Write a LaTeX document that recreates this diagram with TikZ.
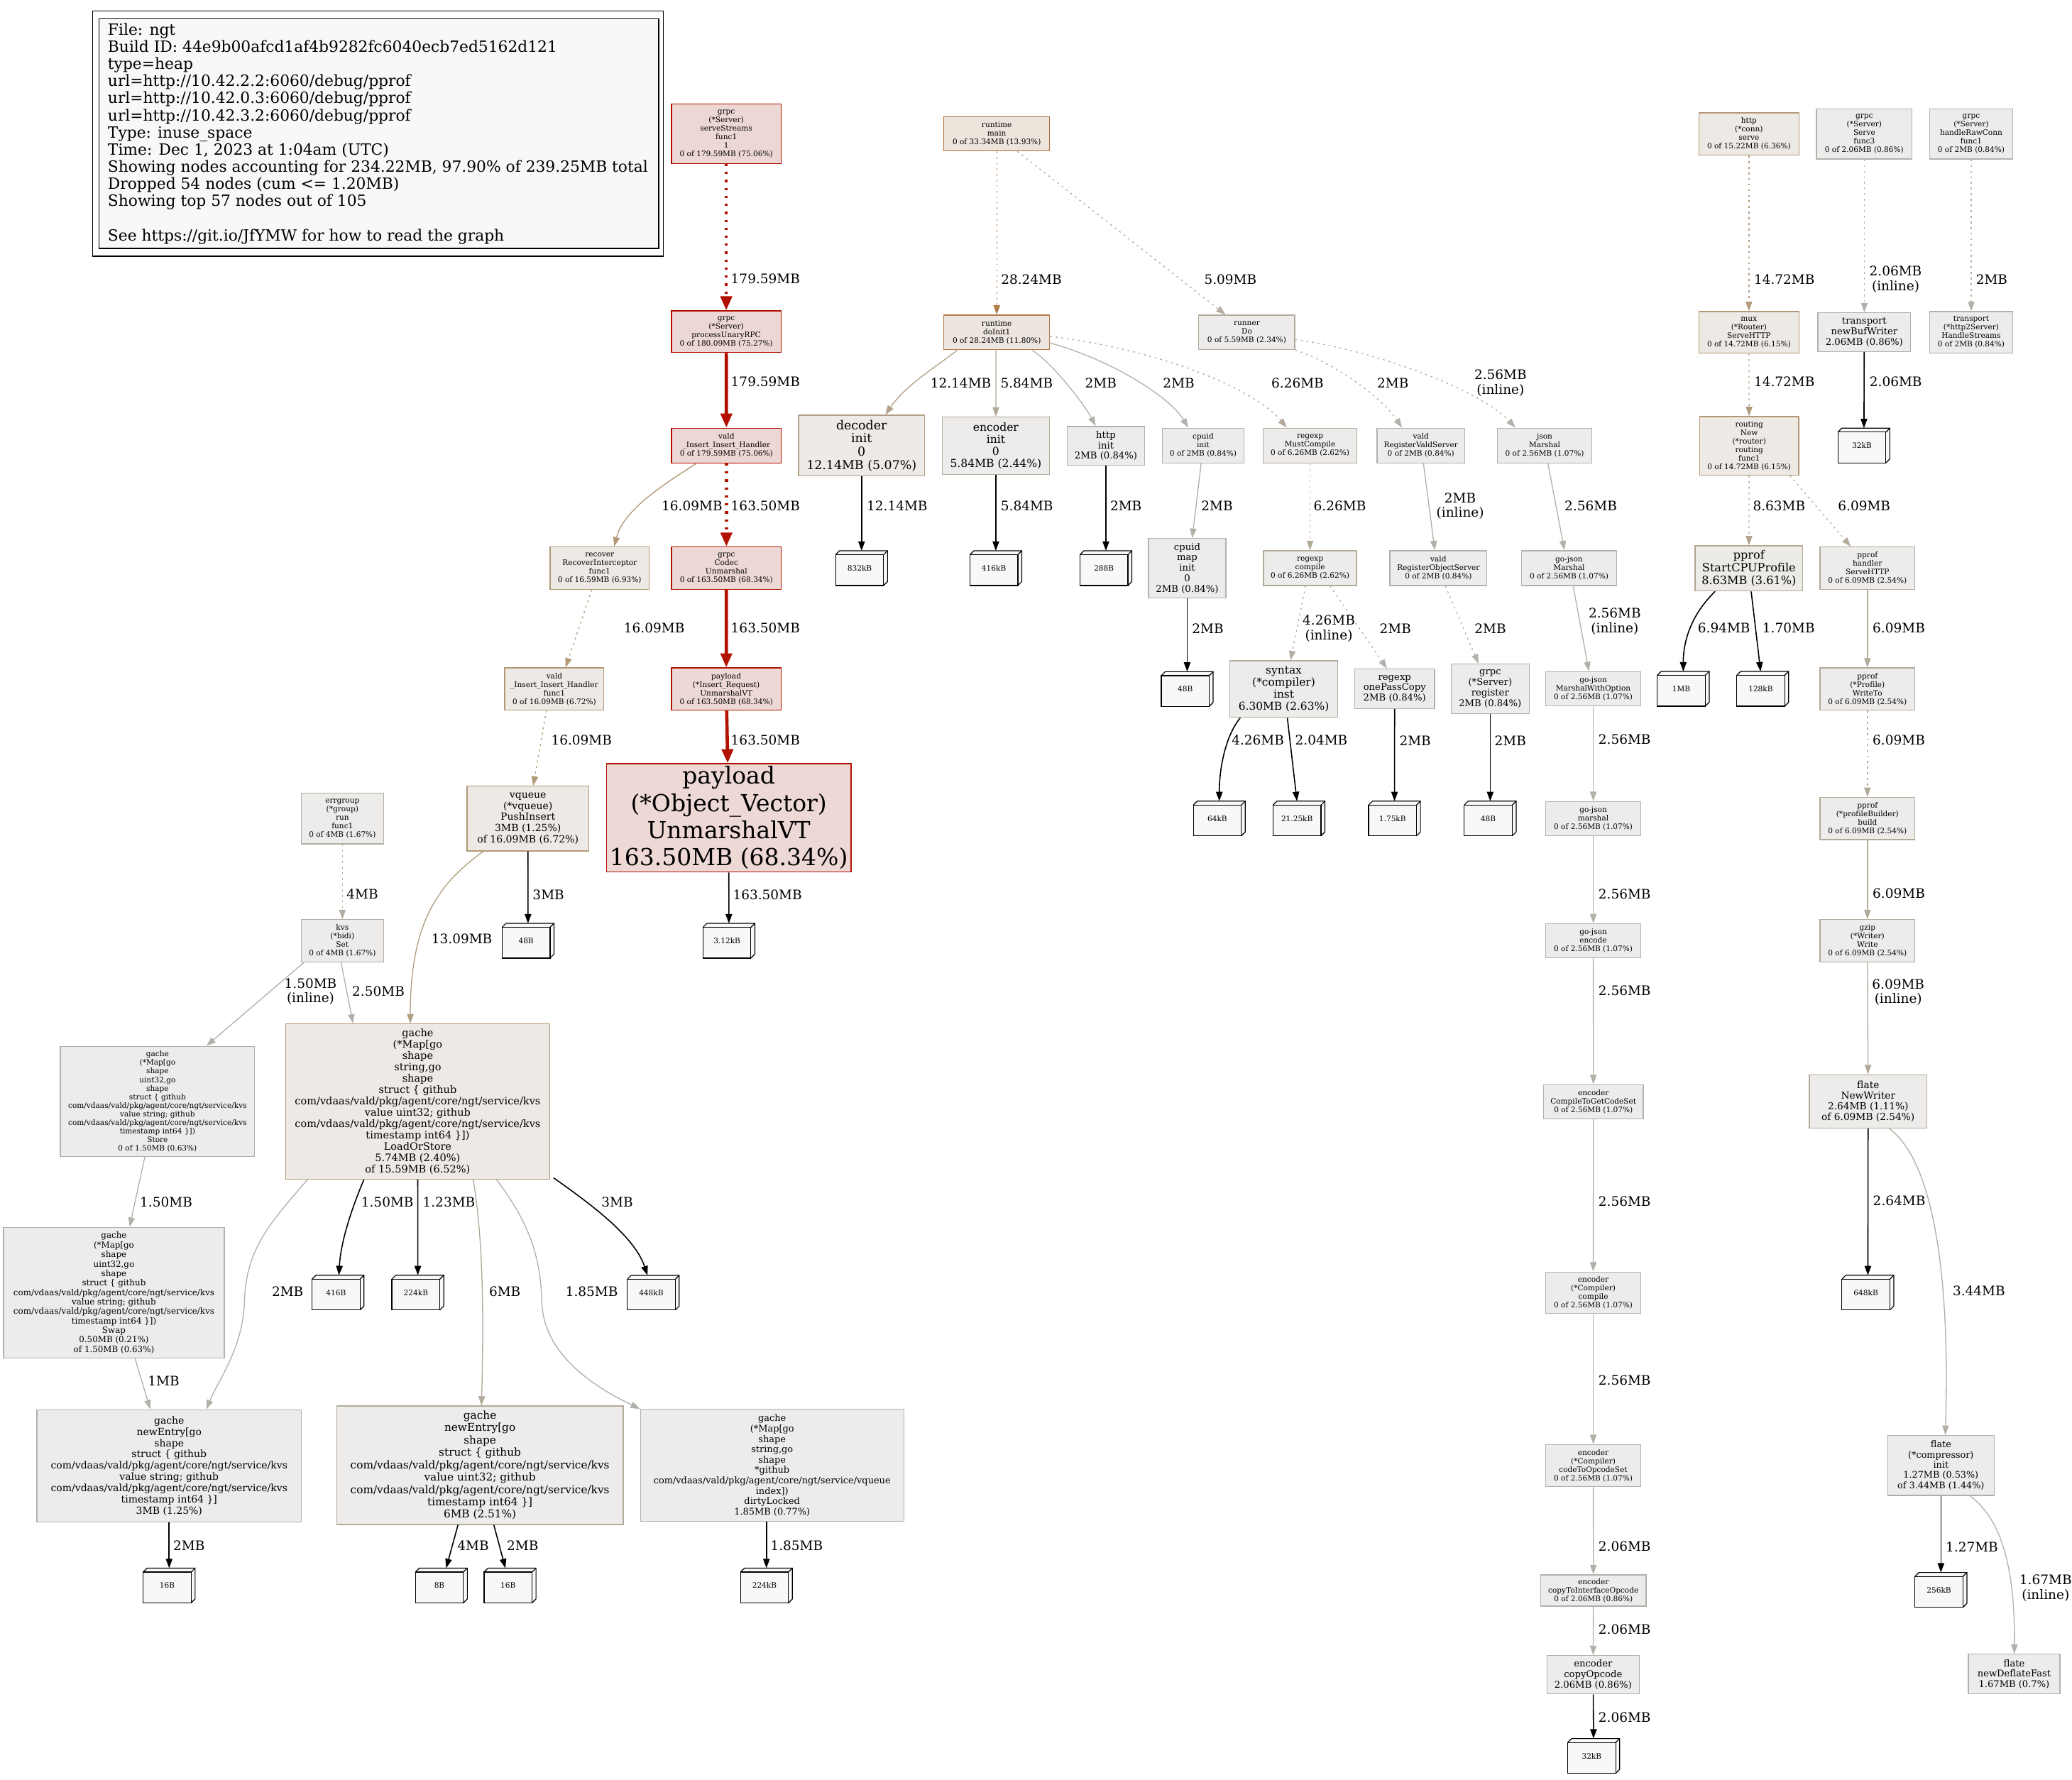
\documentclass[tikz,border=0pt]{standalone}
\usepackage{fontspec}
\setmainfont{DejaVu Serif}[Ligatures=NoCommon]
\usetikzlibrary{arrows.meta,calc}
\newcommand\unitpx{1.41pt}
\newcommand\leafd{4.2pt}
\definecolor{ered1}{HTML}{B20E00}
\definecolor{ered2}{HTML}{B21300}
\definecolor{eb28}{HTML}{B27B49}
\definecolor{eb16}{HTML}{B29876}
\definecolor{eb14}{HTML}{B29A7B}
\definecolor{eb13}{HTML}{B29E81}
\definecolor{eb12}{HTML}{B29F85}
\definecolor{eb8}{HTML}{B2A692}
\definecolor{eb6}{HTML}{B2AA9B}
\definecolor{eb5}{HTML}{B2AC9F}
\definecolor{eb4}{HTML}{B2ADA2}
\definecolor{eb3}{HTML}{B2AEA5}
\definecolor{eb2}{HTML}{B2B0A9}
\definecolor{eb1}{HTML}{B2B1AC}
\definecolor{dmain}{HTML}{B26D36}
\definecolor{drun}{HTML}{B2AB9D}
\definecolor{fred1}{HTML}{EDD7D5}
\definecolor{fred2}{HTML}{EDD8D5}
\definecolor{fmain}{HTML}{EDE4DC}
\definecolor{finit}{HTML}{EDE5DF}
\definecolor{fb15}{HTML}{EDE9E5}
\definecolor{fb12}{HTML}{EDEAE7}
\definecolor{fb8}{HTML}{EDEBE8}
\definecolor{fb6}{HTML}{EDECEA}
\definecolor{fb4}{HTML}{EDECEB}
\definecolor{fgr}{HTML}{EDECEC}
\definecolor{leaffill}{HTML}{F8F8F8}
\tikzset{
  txt/.style 2 args={font=\fontsize{#1}{#2}\selectfont},
  s8/.style={txt={8}{9.1}},
  gbox/.style={rectangle, draw, line width=1pt, inner sep=0pt, align=center},
  nred1/.style={fill=fred1, draw=ered1},
  nred2/.style={fill=fred2, draw=ered2},
  nmain/.style={fill=fmain, draw=dmain},
  ninit/.style={fill=finit, draw=eb28},
  nb15/.style={fill=fb15, draw=eb16},
  nb12/.style={fill=fb12, draw=eb12},
  nb8/.style={fill=fb8, draw=eb8},
  nb6/.style={fill=fb6, draw=eb6},
  nb4/.style={fill=fb4, draw=eb4},
  nrun/.style={fill=fb6, draw=drun},
  nfc/.style={fill=fgr, draw=eb3},
  ng/.style={fill=fgr, draw=eb2},
  leafn/.style={rectangle, fill=leaffill, draw=none, minimum width=39*\unitpx, minimum height=26*\unitpx, inner sep=0pt, s8},
  leafl/.style={draw=black, line width=0.9pt},
  E/.style={line width=1pt, -{Triangle[length=10pt,width=7pt]}},
  EB/.style={line width=1.2pt, draw=black, -{Triangle[length=10pt,width=7pt]}},
  eR1/.style={draw=ered1, line width=3.5pt, -{Triangle[length=15pt,width=12pt]}},
  eR2/.style={draw=ered2, line width=3.5pt, -{Triangle[length=15pt,width=12pt]}},
  dt/.style={dash pattern=on 2pt off 4pt},
  dtR/.style={dash pattern=on 2.5pt off 6pt},
  lab/.style={font=\fontsize{14}{15.7}\selectfont, inner sep=0pt, anchor=west},
  labc/.style={font=\fontsize{14}{15.7}\selectfont, inner sep=0pt, align=center},
}
\newcommand\gn[7]{\node[gbox,#6,minimum width=#4*\unitpx,minimum height=#5*\unitpx] (#1) at (#2,#3) {#7};}
\newcommand\leaf[4]{%
  \node[leafn] (#1) at (#2,#3) {\hspace*{-\leafd}#4};
  \draw[leafl] ([yshift=-\leafd]#1.north west) rectangle ([xshift=-\leafd]#1.south east);
  \draw[leafl] ([yshift=-\leafd]#1.north west) -- ([xshift=\leafd]#1.north west) -- (#1.north east) -- ([yshift=\leafd]#1.south east) -- ([xshift=-\leafd]#1.south east);
  \draw[leafl] ([xshift=-\leafd,yshift=-\leafd]#1.north east) -- (#1.north east);%
}
\newcommand\kvspath{com/vdaas/vald/pkg/agent/core/ngt/service/kvs}
\begin{document}
\begin{tikzpicture}[x=1.41pt,y=-1.41pt]
\fill[white] (0,0) rectangle (1568,1347);
\useasboundingbox (0,0) rectangle (1568,1347);

% legend
\node[draw=black, line width=1pt, minimum width=432*\unitpx, minimum height=185.6*\unitpx, inner sep=0pt] (legout) at (286,101.2) {};
\node[draw=black, fill=leaffill, line width=1pt, minimum width=423.5*\unitpx, minimum height=173.7*\unitpx, inner sep=0pt] (legin) at (286.75,101.2) {};
\node[anchor=west, align=left, inner sep=0pt, txt={16.5}{18.3}] (legtext) at (81.5,101.2) {File: ngt\\Build ID: 44e9b00afcd1af4b9282fc6040ecb7ed5162d121\\type=heap\\url=http://10.42.2.2:6060/debug/pprof\\url=http://10.42.0.3:6060/debug/pprof\\url=http://10.42.3.2:6060/debug/pprof\\Type: inuse\_space\\Time: Dec 1, 2023 at 1:04am (UTC)\\Showing nodes accounting for 234.22MB, 97.90\% of 239.25MB total\\Dropped 54 nodes (cum <= 1.20MB)\\Showing top 57 nodes out of 105\\[18.3pt]See https://git.io/JfYMW for how to read the graph};

% ---------- nodes ----------
\gn{ss}{549.6}{101.2}{83}{45}{nred1,s8}{grpc\\(*Server)\\serveStreams\\func1\\1\\0 of 179.59MB (75.06\%)}
\gn{pu}{549.6}{251}{83}{31.5}{nred1,s8}{grpc\\(*Server)\\processUnaryRPC\\0 of 180.09MB (75.27\%)}
\gn{ih}{549.7}{337.2}{83}{26.4}{nred1,s8}{vald\\\_Insert\_Insert\_Handler\\0 of 179.59MB (75.06\%)}
\gn{rec}{453.8}{430}{75}{32}{nb15,s8}{recover\\RecoverInterceptor\\func1\\0 of 16.59MB (6.93\%)}
\gn{cu}{549.7}{430}{83}{32}{nred2,s8}{grpc\\Codec\\Unmarshal\\0 of 163.50MB (68.34\%)}
\gn{pir}{549.6}{521.5}{83}{32}{nred2,s8}{payload\\(*Insert\_Request)\\UnmarshalVT\\0 of 163.50MB (68.34\%)}
\gn{ihf}{419.5}{521.5}{75}{32}{nb15,s8}{vald\\\_Insert\_Insert\_Handler\\func1\\0 of 16.09MB (6.72\%)}
\gn{pov}{551.5}{619}{185}{82}{nred2,txt={25}{29}}{payload\\(*Object\_Vector)\\UnmarshalVT\\163.50MB (68.34\%)}
\gn{vq}{399.5}{619.5}{92}{49}{nb15,txt={10.6}{12}}{vqueue\\(*vqueue)\\PushInsert\\3MB (1.25\%)\\of 16.09MB (6.72\%)}
\gn{eg}{259.1}{619.5}{62.5}{38.3}{nb4,s8}{errgroup\\(*group)\\run\\func1\\0 of 4MB (1.67\%)}
\gn{kvs}{259.1}{712}{62.5}{32}{nb4,s8}{kvs\\(*bidi)\\Set\\0 of 4MB (1.67\%)}
\gn{los}{316.1}{833.7}{200}{117.4}{nb15,txt={11}{12.1}}{gache\\(*Map[go\\shape\\string,go\\shape\\struct \{ github\\\kvspath\\value uint32; github\\\kvspath\\timestamp int64 \}])\\LoadOrStore\\5.74MB (2.40\%)\\of 15.59MB (6.52\%)}
\gn{st}{119.2}{833.6}{147}{83.3}{ng,s8}{gache\\(*Map[go\\shape\\uint32,go\\shape\\struct \{ github\\\kvspath\\value string; github\\\kvspath\\timestamp int64 \}])\\Store\\0 of 1.50MB (0.63\%)}
\gn{sw}{86.2}{978.4}{167}{99}{ng,txt={9}{10.1}}{gache\\(*Map[go\\shape\\uint32,go\\shape\\struct \{ github\\\kvspath\\value string; github\\\kvspath\\timestamp int64 \}])\\Swap\\0.50MB (0.21\%)\\of 1.50MB (0.63\%)}
\gn{ne1}{128}{1109.5}{200}{85}{ng,txt={10.6}{12}}{gache\\newEntry[go\\shape\\struct \{ github\\\kvspath\\value string; github\\\kvspath\\timestamp int64 \}]\\3MB (1.25\%)}
\gn{ne2}{363.2}{1109}{216.7}{89.6}{nb6,txt={11.6}{13.2}}{gache\\newEntry[go\\shape\\struct \{ github\\\kvspath\\value uint32; github\\\kvspath\\timestamp int64 \}]\\6MB (2.51\%)}
\gn{dl}{584.3}{1109.1}{199.3}{84.8}{ng,txt={9.8}{11.1}}{gache\\(*Map[go\\shape\\string,go\\shape\\*github\\com/vdaas/vald/pkg/agent/core/ngt/service/vqueue\\index])\\dirtyLocked\\1.85MB (0.77\%)}

\gn{rm}{754.3}{101.2}{80}{26}{nmain,s8}{runtime\\main\\0 of 33.34MB (13.93\%)}
\gn{di}{754.3}{251.5}{80}{26}{ninit,s8}{runtime\\doInit1\\0 of 28.24MB (11.80\%)}
\gn{rd}{943.5}{251.5}{72.7}{26}{nrun,s8}{runner\\Do\\0 of 5.59MB (2.34\%)}
\gn{dec}{652}{337.3}{95.4}{46}{nb12,txt={13.2}{14.1}}{decoder\\init\\0\\12.14MB (5.07\%)}
\gn{enc}{753.6}{337.4}{81.3}{43.3}{nb6,txt={11.8}{13}}{encoder\\init\\0\\5.84MB (2.44\%)}
\gn{hi}{836.9}{337.4}{58.6}{29.3}{ng,txt={10}{11.2}}{http\\init\\2MB (0.84\%)}
\gn{ci}{910.5}{337.2}{62}{26.4}{ng,s8}{cpuid\\init\\0 of 2MB (0.84\%)}
\gn{mc}{991.4}{337.2}{70.7}{26.4}{nb6,s8}{regexp\\MustCompile\\0 of 6.26MB (2.62\%)}
\gn{rvs}{1075.3}{337.2}{66.4}{26.4}{ng,s8}{vald\\RegisterValdServer\\0 of 2MB (0.84\%)}
\gn{jm}{1168.9}{337.2}{71.5}{26.4}{ng,s8}{json\\Marshal\\0 of 2.56MB (1.07\%)}
\gn{cmi}{898.4}{430.1}{58.6}{45.2}{ng,txt={10}{11.2}}{cpuid\\map\\init\\0\\2MB (0.84\%)}
\gn{rc}{991.4}{430}{70.4}{26.4}{nb6,s8}{regexp\\compile\\0 of 6.26MB (2.62\%)}
\gn{ros}{1088.5}{430}{73.5}{26.4}{ng,s8}{vald\\RegisterObjectServer\\0 of 2MB (0.84\%)}
\gn{gjm}{1187.4}{430}{72}{26.4}{ng,s8}{go-json\\Marshal\\0 of 2.56MB (1.07\%)}
\gn{syn}{971.5}{521.5}{81.8}{42.9}{nb6,txt={11.7}{12.9}}{syntax\\(*compiler)\\inst\\6.30MB (2.63\%)}
\gn{opc}{1055.4}{521.3}{60.4}{29.9}{ng,txt={10}{11.2}}{regexp\\onePassCopy\\2MB (0.84\%)}
\gn{reg}{1127.7}{521.4}{59}{37.6}{ng,txt={10}{11.2}}{grpc\\(*Server)\\register\\2MB (0.84\%)}
\gn{mwo}{1205.7}{521.3}{72.2}{25.8}{ng,s8}{go-json\\MarshalWithOption\\0 of 2.56MB (1.07\%)}
\gn{gjmar}{1205.7}{619.5}{72.2}{25.8}{ng,s8}{go-json\\marshal\\0 of 2.56MB (1.07\%)}
\gn{gjenc}{1205.7}{712}{72.2}{25.8}{ng,s8}{go-json\\encode\\0 of 2.56MB (1.07\%)}
\gn{ctg}{1205.8}{833.8}{75.6}{25.8}{ng,s8}{encoder\\CompileToGetCodeSet\\0 of 2.56MB (1.07\%)}
\gn{cmp}{1205.7}{978.4}{72.2}{31.4}{ng,s8}{encoder\\(*Compiler)\\compile\\0 of 2.56MB (1.07\%)}
\gn{cto}{1205.7}{1109.2}{72.2}{31.9}{ng,s8}{encoder\\(*Compiler)\\codeToOpcodeSet\\0 of 2.56MB (1.07\%)}
\gn{ctio}{1205.8}{1203.8}{79.9}{23.7}{ng,s8}{encoder\\copyToInterfaceOpcode\\0 of 2.06MB (0.86\%)}
\gn{cop}{1205.6}{1267.5}{69.8}{29}{ng,txt={10}{11.2}}{encoder\\copyOpcode\\2.06MB (0.86\%)}
\gn{hcs}{1323.5}{101.4}{75.9}{31.9}{nb15,s8}{http\\(*conn)\\serve\\0 of 15.22MB (6.36\%)}
\gn{sf3}{1410.8}{101.4}{72.4}{38}{ng,s8}{grpc\\(*Server)\\Serve\\func3\\0 of 2.06MB (0.86\%)}
\gn{hrc}{1491.7}{101.4}{63}{38}{ng,s8}{grpc\\(*Server)\\handleRawConn\\func1\\0 of 2MB (0.84\%)}
\gn{mux}{1323.5}{251.5}{75.9}{31.4}{nb15,s8}{mux\\(*Router)\\ServeHTTP\\0 of 14.72MB (6.15\%)}
\gn{nbw}{1410.8}{251.4}{70.1}{29.3}{ng,txt={10}{11.2}}{transport\\newBufWriter\\2.06MB (0.86\%)}
\gn{hs}{1491.7}{251.5}{63}{31.4}{ng,s8}{transport\\(*http2Server)\\HandleStreams\\0 of 2MB (0.84\%)}
\gn{rnf}{1323.7}{337.4}{75}{44.3}{nb15,s8}{routing\\New\\(*router)\\routing\\func1\\0 of 14.72MB (6.15\%)}
\gn{scp}{1323.5}{430.2}{81.6}{34.2}{nb8,txt={12.2}{13.5}}{pprof\\StartCPUProfile\\8.63MB (3.61\%)}
\gn{phs}{1413.2}{430}{71.9}{31.9}{nb6,s8}{pprof\\handler\\ServeHTTP\\0 of 6.09MB (2.54\%)}
\gn{pwt}{1413.2}{521.5}{71.9}{31.9}{nb6,s8}{pprof\\(*Profile)\\WriteTo\\0 of 6.09MB (2.54\%)}
\gn{pbb}{1413.2}{619.5}{71.9}{31.9}{nb6,s8}{pprof\\(*profileBuilder)\\build\\0 of 6.09MB (2.54\%)}
\gn{gzw}{1413.2}{712}{71.9}{31.9}{nb6,s8}{gzip\\(*Writer)\\Write\\0 of 6.09MB (2.54\%)}
\gn{fnw}{1413.7}{833.6}{88.8}{40.3}{nb6,txt={10.4}{11.6}}{flate\\NewWriter\\2.64MB (1.11\%)\\of 6.09MB (2.54\%)}
\gn{fci}{1468.8}{1109.1}{80.4}{45.4}{nfc,txt={9.7}{10.9}}{flate\\(*compressor)\\init\\1.27MB (0.53\%)\\of 3.44MB (1.44\%)}
\gn{ndf}{1524.2}{1267}{69.3}{30}{ng,txt={9.9}{11}}{flate\\newDeflateFast\\1.67MB (0.7\%)}

% ---------- leaf boxes ----------
\leaf{L1}{652}{430}{832kB}
\leaf{L2}{753.6}{430}{416kB}
\leaf{L3}{836.9}{430}{288B}
\leaf{L4}{1410.5}{337.2}{32kB}
\leaf{L5}{898.4}{521.5}{48B}
\leaf{L6}{922.7}{619.5}{64kB}
\leaf{L7}{983}{619.5}{21.25kB}
\leaf{L8}{1055.3}{619.5}{1.75kB}
\leaf{L9}{1127.7}{619.5}{48B}
\leaf{L10}{1273.8}{521.3}{1MB}
\leaf{L11}{1333.9}{521.3}{128kB}
\leaf{L12}{399.6}{712}{48B}
\leaf{L13}{551.6}{712}{3.12kB}
\leaf{L14}{255.8}{978.3}{416B}
\leaf{L15}{316.2}{978.3}{224kB}
\leaf{L16}{494.3}{978.4}{448kB}
\leaf{L17}{1413.5}{978.3}{648kB}
\leaf{L18}{1468.8}{1203.3}{256kB}
\leaf{L19}{128}{1200}{16B}
\leaf{L20}{334}{1200}{8B}
\leaf{L21}{386}{1200}{16B}
\leaf{L22}{580}{1200}{224kB}
\leaf{L23}{1206}{1329}{32kB}

% ---------- edges ----------
\draw[eR1,dtR] (ss) -- (pu);
\draw[eR1] (pu) -- (ih);
\draw[eR2,dtR] (ih) -- (cu);
\draw[eR2] (cu) -- (pir);
\draw[eR2] (pir) -- (pov);
\draw[EB] (pov) -- (L13);
\draw[E,draw=eb16] ($(ih.south)+(-22.7,0)$) .. controls (505,365) and (472,385) .. ($(rec.north)+(11,0)$);
\draw[E,draw=eb16,dt] ($(rec.south)+(-6,0)$) -- ($(ihf.north)+(8.5,0)$);
\draw[E,draw=eb16,dt] ($(ihf.south)+(-6,0)$) -- ($(vq.north)+(4,0)$);
\draw[EB] (vq) -- (L12);
\draw[E,draw=eb13] ($(vq.south)+(-33.7,0)$) .. controls (330,670) and (310.5,700) .. ($(los.north)+(-5.6,0)$);
\draw[E,draw=eb4,dt] (eg) -- (kvs);
\draw[E,draw=eb2] ($(kvs.south)+(-1,0)$) -- ($(los.north)+(-48.9,0)$);
\draw[E,draw=eb1] ($(kvs.south)+(-29,0)$) -- ($(st.north)+(37,0)$);
\draw[E,draw=eb1] ($(st.south)+(-9.6,0)$) -- ($(sw.north)+(11.9,0)$);
\draw[E,draw=eb1] ($(sw.south)+(16,0)$) -- ($(ne1.north)+(-14.3,0)$);
\draw[E,draw=eb2] ($(los.south west)+(17,0)$) .. controls (205,925) and (186,945) .. (185,985) .. controls (184,1020) and (165,1045) .. ($(ne1.north)+(28.2,0)$);
\draw[EB] ($(los.south)+(-40.7,0)$) .. controls (266,915) and (257.8,940) .. (L14);
\draw[EB] (los) -- (L15);
\draw[E,draw=eb6] ($(los.south)+(42,0)$) .. controls (366,940) and (366,1000) .. (ne2);
\draw[EB] ($(los.south east)+(2.5,-1.3)$) .. controls (445,910) and (480,935) .. (L16);
\draw[E,draw=eb2] ($(los.south)+(59.6,0)$) .. controls (400,925) and (409,950) .. (410,985) .. controls (411,1020) and (440,1045) .. (dl.north west);
\draw[EB] (ne1) -- (L19);
\draw[EB] ($(ne2.south)+(-16.6,0)$) -- (L20);
\draw[EB] ($(ne2.south)+(10.5,0)$) -- (L21);
\draw[EB] ($(dl.south)+(-4.3,0)$) -- (L22);

\draw[E,draw=eb28,dt] (rm) -- (di);
\draw[E,draw=eb5,dt] ($(rm.south)+(15.6,0)$) -- ($(rd.north)+(-16.1,0)$);
\draw[E,draw=eb12] ($(di.south)+(-29.6,0)$) .. controls (705,280) and (685,292) .. ($(dec.north)+(18,0)$);
\draw[E,draw=eb6] ($(di.south)+(-0.7,0)$) -- (enc.north);
\draw[E,draw=eb2] ($(di.south)+(26.5,0)$) .. controls (797,275) and (821,307) .. ($(hi.north)+(-7.7,0)$);
\draw[E,draw=eb2] ($(di.east)+(0,8.1)$) .. controls (840,272) and (885,300) .. ($(ci.north)+(-11.3,0)$);
\draw[E,draw=eb6,dt] ($(di.east)+(0,3.1)$) .. controls (880,265) and (950,295) .. ($(mc.north)+(-17.7,0)$);
\draw[E,draw=eb2,dt] (rd.south east) .. controls (1010,275) and (1045,300) .. ($(rvs.north)+(-14.3,0)$);
\draw[E,draw=eb2,dt] ($(rd.east)+(0,5.5)$) .. controls (1040,265) and (1120,295) .. ($(jm.north)+(-22.1,0)$);
\draw[E,draw=eb6,dt] (mc) -- (rc);
\draw[E,draw=eb2] ($(rvs.south)+(1.9,0)$) -- ($(ros.north)+(-2.7,0)$);
\draw[E,draw=eb2] ($(jm.south)+(2.5,0)$) -- ($(gjm.north)+(-3.5,0)$);
\draw[E,draw=eb2] ($(ci.south)+(-1.5,0)$) -- ($(cmi.north)+(3.8,0)$);
\draw[EB] (cmi) -- (L5);
\draw[EB] (dec) -- (L1);
\draw[EB] (enc) -- (L2);
\draw[EB] (hi) -- (L3);
\draw[E,draw=eb4,dt] ($(rc.south)+(-3.4,0)$) -- ($(syn.north)+(5.1,0)$);
\draw[E,draw=eb2,dt] ($(rc.south)+(15.1,0)$) -- ($(opc.north)+(-5.8,0)$);
\draw[E,draw=eb2,dt] ($(ros.south)+(5.3,0)$) -- ($(reg.north)+(-8.8,0)$);
\draw[E,draw=eb2] ($(gjm.south)+(3.1,0)$) -- ($(mwo.north)+(-3.3,0)$);
\draw[EB] ($(syn.south)+(-32.9,0)$) .. controls (928,556) and (922.7,580) .. (L6);
\draw[EB] ($(syn.south)+(2.7,0)$) -- (L7);
\draw[EB] (opc) -- (L8);
\draw[EB] (reg) -- (L9);
\draw[E,draw=eb2] (mwo) -- (gjmar);
\draw[E,draw=eb2] (gjmar) -- (gjenc);
\draw[E,draw=eb2] (gjenc) -- (ctg);
\draw[E,draw=eb2] (ctg) -- (cmp);
\draw[E,draw=eb2] (cmp) -- (cto);
\draw[E,draw=eb2] (cto) -- (ctio);
\draw[E,draw=eb2] (ctio) -- (cop);
\draw[EB] (cop) -- (L23);
\draw[E,draw=eb14,dt] (hcs) -- (mux);
\draw[E,draw=eb14,dt] (mux) -- (rnf);
\draw[E,draw=eb2,dt] (sf3) -- (nbw);
\draw[EB] (nbw) -- (L4);
\draw[E,draw=eb2,dt] (hrc) -- (hs);
\draw[E,draw=eb8,dt] (rnf) -- (scp);
\draw[E,draw=eb6,dt] ($(rnf.south)+(30.8,0)$) -- ($(phs.north)+(-12.6,0)$);
\draw[EB] ($(scp.south)+(-25.6,0)$) .. controls (1280,465) and (1273.8,485) .. (L10);
\draw[EB] ($(scp.south)+(1.7,0)$) -- (L11);
\draw[E,draw=eb6] (phs) -- (pwt);
\draw[E,draw=eb6,dt] (pwt) -- (pbb);
\draw[E,draw=eb6] (pbb) -- (gzw);
\draw[E,draw=eb6] (gzw) -- (fnw);
\draw[EB] (fnw) -- (L17);
\draw[E,draw=eb3] ($(fnw.south)+(16,0)$) .. controls (1462,878) and (1476,960) .. ($(fci.north)+(3.3,0)$);
\draw[EB] (fci) -- (L18);
\draw[E,draw=eb1] ($(fci.south)+(22,0)$) .. controls (1512,1148) and (1525,1180) .. (ndf);

% ---------- edge labels ----------
\node[lab] (a1) at (553,211) {179.59MB};
\node[lab] (a2) at (553,289) {179.59MB};
\node[lab] (a3) at (500.6,383) {16.09MB};
\node[lab] (a4) at (553,383) {163.50MB};
\node[lab] (a5) at (553,475) {163.50MB};
\node[lab] (a6) at (553,560) {163.50MB};
\node[lab] (a7) at (554.5,677) {163.50MB};
\node[lab] (a8) at (472,475) {16.09MB};
\node[lab] (a9) at (417,560) {16.09MB};
\node[lab] (a10) at (403,677) {3MB};
\node[lab] (a11) at (326.4,710.5) {13.09MB};
\node[lab] (a12) at (262.2,676.8) {4MB};
\node[labc] (a13) at (235,750.5) {1.50MB\\(inline)};
\node[lab] (a14) at (266.4,750.3) {2.50MB};
\node[lab] (a15) at (105.8,909.7) {1.50MB};
\node[lab] (a16) at (111.8,1044.9) {1MB};
\node[lab] (a17) at (205.6,977.4) {2MB};
\node[lab] (a18) at (273.2,909.7) {1.50MB};
\node[lab] (a19) at (319.8,909.7) {1.23MB};
\node[lab] (a20) at (370,977.4) {6MB};
\node[lab] (a21) at (455.1,909.9) {3MB};
\node[lab] (a22) at (427.9,977.6) {1.85MB};
\node[lab] (a23) at (131,1170) {2MB};
\node[lab] (a24) at (346,1170) {4MB};
\node[lab] (a25) at (383.5,1170) {2MB};
\node[lab] (a26) at (583,1170) {1.85MB};
\node[lab] (a27) at (757.4,211.3) {28.24MB};
\node[lab] (a28) at (911.2,211.3) {5.09MB};
\node[lab] (a29) at (704,290) {12.14MB};
\node[lab] (a30) at (757,290) {5.84MB};
\node[lab] (a31) at (821,290) {2MB};
\node[lab] (a32) at (880,290) {2MB};
\node[lab] (a33) at (962,290) {6.26MB};
\node[lab] (a34) at (1042,290) {2MB};
\node[labc] (a35) at (1135.5,290) {2.56MB\\(inline)};
\node[lab] (a36) at (655.8,383) {12.14MB};
\node[lab] (a37) at (757.2,383) {5.84MB};
\node[lab] (a38) at (840,383) {2MB};
\node[lab] (a39) at (909,383) {2MB};
\node[lab] (a40) at (994,383) {6.26MB};
\node[labc] (a41) at (1105,383) {2MB\\(inline)};
\node[lab] (a42) at (1183.9,383) {2.56MB};
\node[lab] (a43) at (1326.4,383) {8.63MB};
\node[lab] (a44) at (1390.8,383) {6.09MB};
\node[lab] (a45) at (902,475.8) {2MB};
\node[labc] (a46) at (1005.6,475.8) {4.26MB\\(inline)};
\node[lab] (a47) at (1043.9,475.8) {2MB};
\node[lab] (a48) at (1115.8,475.8) {2MB};
\node[labc] (a49) at (1222,470.5) {2.56MB\\(inline)};
\node[lab] (a50) at (1284.7,475) {6.94MB};
\node[lab] (a51) at (1333.6,475) {1.70MB};
\node[lab] (a52) at (1417,475) {6.09MB};
\node[lab] (a53) at (932,560.4) {4.26MB};
\node[lab] (a54) at (980,560.4) {2.04MB};
\node[lab] (a55) at (1058.9,560.4) {2MB};
\node[lab] (a56) at (1130.9,560.4) {2MB};
\node[lab] (a57) at (1209.5,559.8) {2.56MB};
\node[lab] (a58) at (1417,560) {6.09MB};
\node[lab] (a59) at (1209.5,676.5) {2.56MB};
\node[lab] (a60) at (1417,676) {6.09MB};
\node[lab] (a61) at (1209.5,750) {2.56MB};
\node[labc] (a62) at (1436.5,751) {6.09MB\\(inline)};
\node[lab] (a63) at (1209.5,909.3) {2.56MB};
\node[lab] (a64) at (1417.3,908.8) {2.64MB};
\node[lab] (a65) at (1477.6,977) {3.44MB};
\node[lab] (a66) at (1209.5,1044.4) {2.56MB};
\node[lab] (a67) at (1209.5,1170.3) {2.06MB};
\node[lab] (a68) at (1472.3,1170.7) {1.27MB};
\node[lab] (a69) at (1209.5,1233) {2.06MB};
\node[labc] (a70) at (1548,1202) {1.67MB\\(inline)};
\node[lab] (a71) at (1209.5,1300) {2.06MB};
\node[lab] (a72) at (1327.2,211.3) {14.72MB};
\node[labc] (a73) at (1434.5,211.5) {2.06MB\\(inline)};
\node[lab] (a74) at (1495.2,211.3) {2MB};
\node[lab] (a75) at (1327.2,289) {14.72MB};
\node[lab] (a76) at (1414.7,289) {2.06MB};
\end{tikzpicture}
\end{document}
